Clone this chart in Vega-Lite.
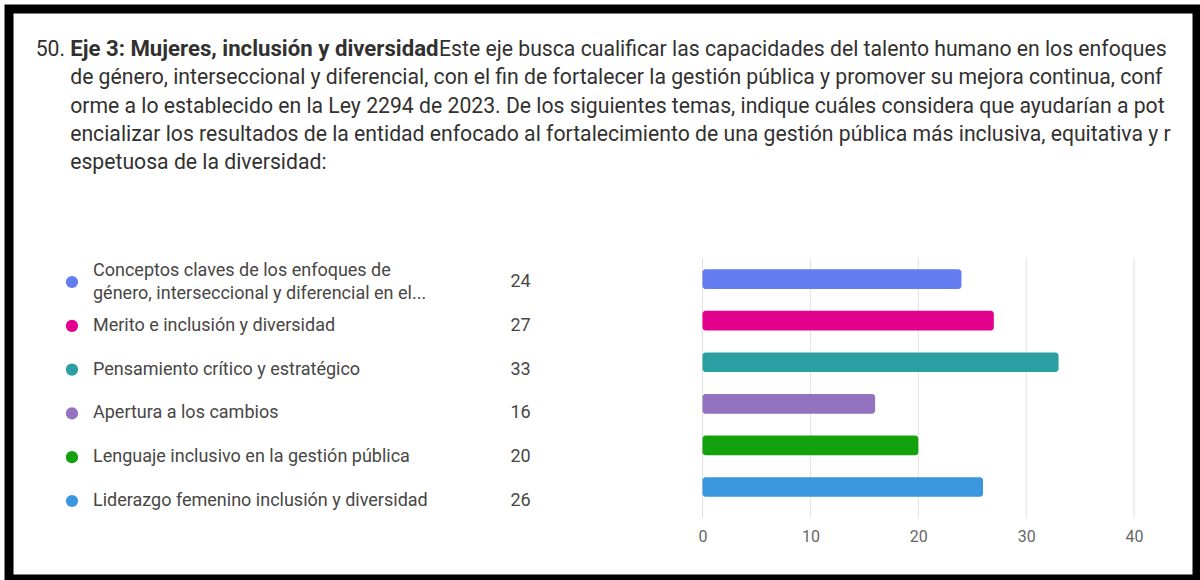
{
  "$schema": "https://vega.github.io/schema/vega-lite/v6.json",
  "width": 1200,
  "height": 580,
  "autosize": {"type": "fit", "contains": "padding"},
  "padding": {"left": 9, "top": 9, "right": 3, "bottom": 1},
  "background": "white",
  "config": {
    "view": {"stroke": "#000000", "strokeWidth": 9, "fill": "white"},
    "font": "Roboto"
  },
  "datasets": {
    "titulo": [
      {"linea": 1, "parte": "num", "texto": "50."},
      {"linea": 1, "parte": "negrita", "texto": "Eje 3: Mujeres, inclusión y diversidad"},
      {"linea": 1, "parte": "resto", "texto": "Este eje busca cualificar las capacidades del talento humano en los enfoques"},
      {"linea": 2, "parte": "cuerpo", "texto": "de género, interseccional y diferencial, con el fin de fortalecer la gestión pública y promover su mejora continua, conf"},
      {"linea": 3, "parte": "cuerpo", "texto": "orme a lo establecido en la Ley 2294 de 2023. De los siguientes temas, indique cuáles considera que ayudarían a pot"},
      {"linea": 4, "parte": "cuerpo", "texto": "encializar los resultados de la entidad enfocado al fortalecimiento de una gestión pública más inclusiva, equitativa y r"},
      {"linea": 5, "parte": "cuerpo", "texto": "espetuosa de la diversidad:"}
    ],
    "temas": [
      {"tema": "Conceptos claves de los enfoques de género, interseccional y diferencial en el...", "etiqueta": "Conceptos claves de los enfoques de\ngénero, interseccional y diferencial en el...", "lineas": 2, "respuestas": 24},
      {"tema": "Merito e inclusión y diversidad", "etiqueta": "Merito e inclusión y diversidad", "lineas": 1, "respuestas": 27},
      {"tema": "Pensamiento crítico y estratégico", "etiqueta": "Pensamiento crítico y estratégico", "lineas": 1, "respuestas": 33},
      {"tema": "Apertura a los cambios", "etiqueta": "Apertura a los cambios", "lineas": 1, "respuestas": 16},
      {"tema": "Lenguaje inclusivo en la gestión pública", "etiqueta": "Lenguaje inclusivo en la gestión pública", "lineas": 1, "respuestas": 20},
      {"tema": "Liderazgo femenino inclusión y diversidad", "etiqueta": "Liderazgo femenino inclusión y diversidad", "lineas": 1, "respuestas": 26}
    ],
    "marcas": [{"v": 0}, {"v": 10}, {"v": 20}, {"v": 30}, {"v": 40}]
  },
  "layer": [
    {
      "data": {"name": "titulo"},
      "transform": [{"filter": "datum.parte == 'num'"}],
      "mark": {"type": "text", "align": "right", "baseline": "alphabetic", "fontSize": 21.2, "color": "#323130"},
      "encoding": {
        "x": {"datum": 4.72, "type": "quantitative", "scale": {"domain": [0, 100], "nice": false, "zero": false}, "axis": null},
        "y": {"field": "linea", "type": "quantitative", "scale": {"domain": [-0.664, 19.513], "reverse": true, "nice": false, "zero": false}, "axis": null},
        "text": {"field": "texto", "type": "nominal"}
      }
    },
    {
      "data": {"name": "titulo"},
      "transform": [{"filter": "datum.parte == 'negrita'"}],
      "mark": {"type": "text", "align": "left", "baseline": "alphabetic", "fontSize": 22.2, "fontWeight": "bold", "color": "#323130"},
      "encoding": {
        "x": {"datum": 5.15, "type": "quantitative", "scale": {"domain": [0, 100], "nice": false, "zero": false}, "axis": null},
        "y": {"field": "linea", "type": "quantitative", "scale": {"domain": [-0.664, 19.513], "reverse": true, "nice": false, "zero": false}, "axis": null},
        "text": {"field": "texto", "type": "nominal"}
      }
    },
    {
      "data": {"name": "titulo"},
      "transform": [{"filter": "datum.parte == 'resto'"}],
      "mark": {"type": "text", "align": "left", "baseline": "alphabetic", "fontSize": 21.2, "color": "#323130"},
      "encoding": {
        "x": {"datum": 36.2, "type": "quantitative", "scale": {"domain": [0, 100], "nice": false, "zero": false}, "axis": null},
        "y": {"field": "linea", "type": "quantitative", "scale": {"domain": [-0.664, 19.513], "reverse": true, "nice": false, "zero": false}, "axis": null},
        "text": {"field": "texto", "type": "nominal"}
      }
    },
    {
      "data": {"name": "titulo"},
      "transform": [{"filter": "datum.parte == 'cuerpo'"}],
      "mark": {"type": "text", "align": "left", "baseline": "alphabetic", "fontSize": 21.2, "color": "#323130"},
      "encoding": {
        "x": {"datum": 5.15, "type": "quantitative", "scale": {"domain": [0, 100], "nice": false, "zero": false}, "axis": null},
        "y": {"field": "linea", "type": "quantitative", "scale": {"domain": [-0.664, 19.513], "reverse": true, "nice": false, "zero": false}, "axis": null},
        "text": {"field": "texto", "type": "nominal"}
      }
    },
    {
      "data": {"name": "temas"},
      "mark": {"type": "point", "filled": true, "size": 150, "opacity": 1},
      "encoding": {
        "x": {"datum": 5.3, "type": "quantitative", "scale": {"domain": [0, 100], "nice": false, "zero": false}, "axis": null},
        "y": {"field": "tema", "type": "nominal", "scale": {"type": "point", "padding": 0, "range": [273, 492]}, "sort": null, "axis": null},
        "color": {"field": "tema", "type": "nominal", "sort": null, "scale": {"range": ["#637CEF", "#E3008C", "#2AA0A4", "#9373C0", "#13A10E", "#3A96DD"]}, "legend": null}
      }
    },
    {
      "data": {"name": "temas"},
      "transform": [{"filter": "datum.lineas == 1"}],
      "mark": {"type": "text", "align": "left", "baseline": "middle", "fontSize": 18, "color": "#484644"},
      "encoding": {
        "x": {"datum": 7.07, "type": "quantitative", "scale": {"domain": [0, 100], "nice": false, "zero": false}, "axis": null},
        "y": {"field": "tema", "type": "nominal", "scale": {"type": "point", "padding": 0, "range": [273, 492], "domain": ["Conceptos claves de los enfoques de género, interseccional y diferencial en el...", "Merito e inclusión y diversidad", "Pensamiento crítico y estratégico", "Apertura a los cambios", "Lenguaje inclusivo en la gestión pública", "Liderazgo femenino inclusión y diversidad"]}, "axis": null},
        "text": {"field": "etiqueta", "type": "nominal"}
      }
    },
    {
      "data": {"name": "temas"},
      "transform": [{"filter": "datum.lineas == 2"}],
      "mark": {"type": "text", "align": "left", "baseline": "middle", "fontSize": 18, "lineBreak": "\n", "lineHeight": 23, "dy": -11.5, "color": "#484644"},
      "encoding": {
        "x": {"datum": 7.07, "type": "quantitative", "scale": {"domain": [0, 100], "nice": false, "zero": false}, "axis": null},
        "y": {"field": "tema", "type": "nominal", "scale": {"type": "point", "padding": 0, "range": [273, 492], "domain": ["Conceptos claves de los enfoques de género, interseccional y diferencial en el...", "Merito e inclusión y diversidad", "Pensamiento crítico y estratégico", "Apertura a los cambios", "Lenguaje inclusivo en la gestión pública", "Liderazgo femenino inclusión y diversidad"]}, "axis": null},
        "text": {"field": "etiqueta", "type": "nominal"}
      }
    },
    {
      "data": {"name": "temas"},
      "mark": {"type": "text", "align": "right", "baseline": "middle", "fontSize": 18, "color": "#484644"},
      "encoding": {
        "x": {"datum": 43.91, "type": "quantitative", "scale": {"domain": [0, 100], "nice": false, "zero": false}, "axis": null},
        "y": {"field": "tema", "type": "nominal", "scale": {"type": "point", "padding": 0, "range": [273, 492]}, "sort": null, "axis": null},
        "text": {"field": "respuestas", "type": "quantitative"}
      }
    },
    {
      "data": {"name": "marcas"},
      "mark": {"type": "rule", "color": "#e1e1e1", "strokeWidth": 1},
      "encoding": {
        "x": {"field": "v", "type": "quantitative", "scale": {"domain": [-64.27, 45.83], "nice": false, "zero": false}, "axis": null},
        "y": {"datum": 249, "type": "quantitative", "scale": {"domain": [0, 570], "reverse": true, "nice": false, "zero": false}, "axis": null},
        "y2": {"datum": 509}
      }
    },
    {
      "data": {"name": "temas"},
      "mark": {"type": "bar", "cornerRadius": 3},
      "encoding": {
        "x": {"field": "respuestas", "type": "quantitative", "scale": {"domain": [-64.27, 45.83], "nice": false, "zero": false},
              "axis": {"values": [0, 10, 20, 30, 40], "grid": false, "domain": false, "ticks": false, "tickSize": 0, "title": null, "labelFontSize": 16, "labelColor": "#666666", "labelFont": "Roboto", "labelPadding": 4, "offset": -55}},
        "x2": {"datum": 0},
        "y": {"field": "tema", "type": "nominal", "sort": null, "scale": {"type": "band", "paddingInner": 0.527, "paddingOuter": 0, "range": [260.3, 487.8]}, "axis": null},
        "color": {"field": "tema", "type": "nominal", "sort": null, "scale": {"range": ["#637CEF", "#E3008C", "#2AA0A4", "#9373C0", "#13A10E", "#3A96DD"]}, "legend": null}
      }
    }
  ],
  "resolve": {"scale": {"x": "independent", "y": "independent"}}
}
